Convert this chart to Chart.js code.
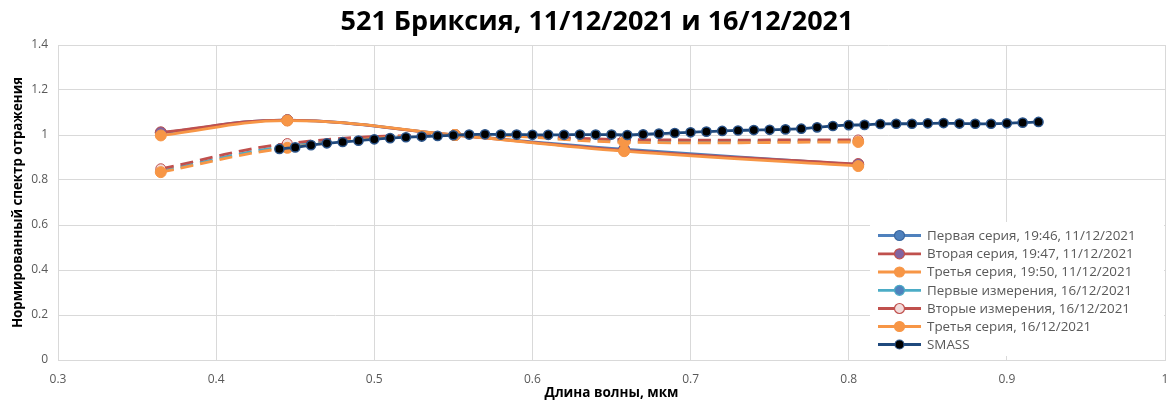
<!DOCTYPE html>
<html><head><meta charset="utf-8">
<script src="https://cdn.jsdelivr.net/npm/chart.js@4"></script>
<style>html,body{margin:0;padding:0;background:#fff}#wrap{width:1176px;height:401px;position:relative}</style>
</head><body><div id="wrap"><canvas id="c" width="1176" height="401"></canvas></div>
<script>
const chartTitle = '521 Бриксия, 11/12/2021 и 16/12/2021';
const xTitle = 'Длина волны, мкм';
const yTitle = 'Нормированный спектр отражения';
const seriesNames = ['Первая серия, 19:46, 11/12/2021','Вторая серия, 19:47, 11/12/2021','Третья серия, 19:50, 11/12/2021','Первые измерения, 16/12/2021','Вторые измерения, 16/12/2021','Третья серия, 16/12/2021','SMASS'];
const wavelengths = [0.365, 0.445, 0.551, 0.658, 0.806];
const first11  = [1.010, 1.066, 1.000, 0.937, 0.868];
const second11 = [1.012, 1.066, 1.000, 0.932, 0.871];
const third11  = [0.998, 1.064, 1.000, 0.928, 0.862];
const first16  = [0.840, 0.950, 1.000, 0.975, 0.974];
const second16 = [0.850, 0.962, 1.000, 0.980, 0.978];
const third16  = [0.835, 0.943, 1.000, 0.968, 0.969];
const smassX = [0.44,0.45,0.46,0.47,0.48,0.49,0.50,0.51,0.52,0.53,0.54,0.55,0.56,0.57,0.58,0.59,0.60,0.61,0.62,0.63,0.64,0.65,0.66,0.67,0.68,0.69,0.70,0.71,0.72,0.73,0.74,0.75,0.76,0.77,0.78,0.79,0.80,0.81,0.82,0.83,0.84,0.85,0.86,0.87,0.88,0.89,0.90,0.91,0.92];
const smassY = [0.938,0.945,0.955,0.963,0.969,0.975,0.981,0.986,0.990,0.993,0.996,0.999,1.002,1.003,1.002,1.002,1.001,1.001,1.001,1.002,1.002,1.002,1.000,1.003,1.006,1.009,1.012,1.015,1.018,1.020,1.022,1.023,1.025,1.028,1.034,1.040,1.044,1.045,1.049,1.050,1.050,1.052,1.053,1.051,1.050,1.050,1.052,1.055,1.058];
const xTicks = [0.3,0.4,0.5,0.6,0.7,0.8,0.9,1];
const yTicks = [0,0.2,0.4,0.6,0.8,1,1.2,1.4];

const pts = (xs, ys) => xs.map((x, i) => ({x, y: ys[i]}));
const FONT = "'Open Sans', 'Liberation Sans', sans-serif";

const styles = [
  {line:'#4F81BD', fill:'#4F81BD', pb:'#3A67A0', dash:[], r:5.5, order:6},
  {line:'#C0504D', fill:'#8064A2', pb:'#C0504D', dash:[], r:5.5, order:5},
  {line:'#F79646', fill:'#F79646', pb:'#F79646', dash:[], r:5.5, order:4},
  {line:'#4BACC6', fill:'#4F81BD', pb:'#4BACC6', dash:[13,7], r:5, order:3},
  {line:'#C0504D', fill:'#F2DCDB', pb:'#C0504D', dash:[13,7], r:5, order:2},
  {line:'#F79646', fill:'#F79646', pb:'#F79646', dash:[13,7], r:5.5, order:1},
  {line:'#1F497D', fill:'#000000', pb:'#1F497D', dash:[], r:4.5, order:0}
];
const dataArr = [first11, second11, third11, first16, second16, third16];
const datasets = dataArr.map((d, i) => ({
  label: seriesNames[i], data: pts(wavelengths, d), showLine: true, tension: 0.4,
  borderColor: styles[i].line, borderWidth: 2.8, borderDash: styles[i].dash,
  pointBackgroundColor: styles[i].fill, pointBorderColor: styles[i].pb, pointBorderWidth: 1,
  pointRadius: styles[i].r, order: styles[i].order
}));
datasets.push({
  label: seriesNames[6], data: pts(smassX, smassY), showLine: true, tension: 0.2,
  borderColor: '#1F497D', borderWidth: 2.8, pointBackgroundColor: '#000', pointBorderColor: '#2A5388',
  pointBorderWidth: 1.5, pointRadius: 4.6, order: 0
});

const fmt = v => String(Math.round(v * 10) / 10);

const titlePlugin = {
  id: 'fixedTitle',
  afterDraw(chart) {
    const ctx = chart.ctx;
    ctx.save();
    ctx.fillStyle = '#000';
    ctx.font = "bold 27px " + FONT;
    ctx.textAlign = 'center'; ctx.textBaseline = 'middle';
    ctx.fillText(chartTitle, 597, 22);
    ctx.restore();
  }
};

const legendPlugin = {
  id: 'boxLegend',
  afterDraw(chart) {
    const ctx = chart.ctx;
    ctx.save();
    ctx.fillStyle = '#fff';
    ctx.fillRect(870, 222, 294, 134);
    const ys = [235.5, 253.8, 272, 290.3, 308.5, 326.5, 344.5];
    chart.data.datasets.forEach((ds, i) => {
      const y = ys[i];
      ctx.setLineDash([]);
      ctx.strokeStyle = ds.borderColor;
      ctx.lineWidth = 2.8;
      ctx.beginPath(); ctx.moveTo(878, y); ctx.lineTo(921, y); ctx.stroke();
      ctx.beginPath(); ctx.arc(899.5, y, i === 6 ? 4.5 : 5, 0, Math.PI * 2);
      ctx.fillStyle = ds.pointBackgroundColor; ctx.fill();
      ctx.lineWidth = 1.2; ctx.strokeStyle = ds.pointBorderColor; ctx.stroke();
      ctx.fillStyle = '#595959';
      ctx.font = "13.4px " + FONT;
      ctx.textBaseline = 'middle'; ctx.textAlign = 'left';
      ctx.fillText(ds.label, 927, y + 0.5);
    });
    ctx.restore();
  }
};

new Chart(document.getElementById('c'), {
  type: 'scatter',
  data: { datasets },
  plugins: [legendPlugin, titlePlugin],
  options: {
    responsive: false, animation: false, devicePixelRatio: 1,
    layout: { padding: { left: 0, right: 11, top: 45, bottom: 0 } },
    plugins: {
      legend: { display: false }, tooltip: { enabled: false }, title: { display: false }
    },
    scales: {
      x: {
        type: 'linear', min: 0.3, max: 1,
        afterBuildTicks: s => { s.ticks = xTicks.map(v => ({value: v})); },
        afterFit: s => { s.height = 41; s.paddingLeft = 0; s.paddingRight = 0; },
        grid: { color: '#D9D9D9', lineWidth: 1, drawTicks: false },
        border: { color: '#D9D9D9' },
        ticks: { callback: fmt, color: '#595959', font: { family: FONT, size: 12 }, padding: 12, maxRotation: 0 },
        title: { display: true, text: xTitle, color: '#000', font: { family: FONT, size: 13.5, weight: 'bold' }, padding: { top: 0, bottom: 0 } }
      },
      y: {
        type: 'linear', min: 0, max: 1.4,
        afterBuildTicks: s => { s.ticks = yTicks.map(v => ({value: v})); },
        afterFit: s => { s.width = 58; },
        grid: { color: '#D9D9D9', lineWidth: 1, drawTicks: false },
        border: { color: '#D9D9D9' },
        ticks: { callback: fmt, color: '#595959', font: { family: FONT, size: 12 }, padding: 10 },
        title: { display: true, text: yTitle, color: '#000', font: { family: FONT, size: 13.3, weight: 'bold' }, padding: { top: 10, bottom: 0 } }
      }
    }
  }
});
</script></body></html>
